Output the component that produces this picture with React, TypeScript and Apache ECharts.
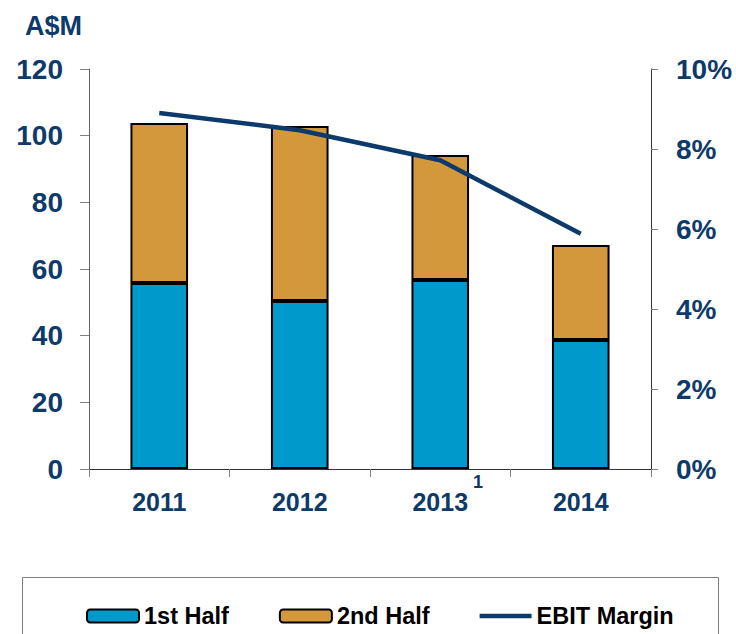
import React, { useEffect, useRef } from "react";
import * as echarts from "echarts";

const categories = ["2011", "2012", "2013", "2014"];
const superscripts = ["", "", "1", ""];
const firstHalf = [55.8, 50.4, 56.7, 38.7];
const secondHalf = [48.0, 52.5, 37.5, 28.5];
const ebitMargin = [8.9, 8.47, 7.72, 5.88];
const leftTicks = { min: 0, max: 120, interval: 20 };
const rightTicks = { min: 0, max: 10, interval: 2 };

const NAVY = "#0E3A6A";
const FONT = "Arial, 'Liberation Sans', sans-serif";

export default function App() {
  const ref = useRef<HTMLDivElement>(null);
  useEffect(() => {
    if (!ref.current) return;
    const chart = echarts.init(ref.current, undefined, { renderer: "svg" });
    chart.setOption({
      animation: false,
      textStyle: { fontFamily: FONT },
      grid: { left: 89, right: 85, top: 69, bottom: 165, containLabel: false },
      graphic: [
        {
          type: "text",
          left: 25,
          top: 12,
          style: { text: "A$M", fill: NAVY, font: `bold 27px ${FONT}` },
        },
        {
          type: "rect",
          shape: { x: 22.5, y: 577.5, width: 696, height: 80 },
          style: { fill: "none", stroke: "#808080", lineWidth: 1 },
          z: -1,
        },
      ],
      legend: {
        left: 81,
        top: 598,
        itemWidth: 52,
        itemHeight: 13,
        itemGap: 50,
        textStyle: { fontSize: 23.5, fontWeight: "bold", color: "#000", fontFamily: FONT, lineHeight: 26 },
        data: [
          { name: "1st Half" },
          { name: "2nd Half" },
          { name: "EBIT Margin", icon: "path://M0,0H52V4.5H0Z", itemStyle: { color: "#0B3A6B", borderWidth: 0 } },
        ],
      },
      xAxis: {
        type: "category",
        data: categories,
        boundaryGap: true,
        axisLine: { lineStyle: { color: "#333", width: 1 } },
        axisTick: { show: true, interval: 0, length: 8, lineStyle: { color: "#808080" } },
        axisLabel: {
          margin: 4,
          interval: 0,
          formatter: (v: string, i: number) =>
            superscripts[i] ? `{a|${v}}{s|${superscripts[i]}}` : `{b|${v}}`,
          rich: {
            a: { fontSize: 25, fontWeight: "bold", color: NAVY, fontFamily: FONT, lineHeight: 57, padding: [0, 0, 0, 15] },
            b: { fontSize: 25, fontWeight: "bold", color: NAVY, fontFamily: FONT, lineHeight: 57 },
            s: { fontSize: 18, fontWeight: "bold", color: NAVY, fontFamily: FONT, lineHeight: 18, verticalAlign: "top", padding: [0, 0, 0, 5] },
          },
        },
      },
      yAxis: [
        {
          type: "value",
          min: leftTicks.min,
          max: leftTicks.max,
          interval: leftTicks.interval,
          position: "left",
          splitLine: { show: false },
          axisLine: { show: true, lineStyle: { color: "#666", width: 1 } },
          axisTick: { show: true, length: 9, lineStyle: { color: "#808080" } },
          axisLabel: { margin: 26, fontSize: 28, fontWeight: "bold", color: NAVY, fontFamily: FONT },
        },
        {
          type: "value",
          min: rightTicks.min,
          max: rightTicks.max,
          interval: rightTicks.interval,
          position: "right",
          splitLine: { show: false },
          axisLine: { show: true, lineStyle: { color: "#333", width: 1 } },
          axisTick: { show: true, length: 7, lineStyle: { color: "#808080" } },
          axisLabel: { margin: 25, fontSize: 28, fontWeight: "bold", color: NAVY, fontFamily: FONT, formatter: "{value}%" },
        },
      ],
      series: [
        {
          name: "1st Half",
          type: "bar",
          stack: "total",
          barWidth: "41%",
          data: firstHalf,
          itemStyle: { color: "#0099CC", borderColor: "#000", borderWidth: 2 },
        },
        {
          name: "2nd Half",
          type: "bar",
          stack: "total",
          barWidth: "41%",
          data: secondHalf,
          itemStyle: { color: "#D3973C", borderColor: "#000", borderWidth: 2 },
        },
        {
          name: "EBIT Margin",
          type: "line",
          yAxisIndex: 1,
          data: ebitMargin,
          symbol: "none",
          z: 5,
          lineStyle: { color: "#0B3A6B", width: 4.5 },
          itemStyle: { color: "#0B3A6B" },
        },
      ],
    });
    return () => chart.dispose();
  }, []);
  return <div ref={ref} style={{ width: 736, height: 634, position: "absolute", left: 0, top: 0 }} />;
}
